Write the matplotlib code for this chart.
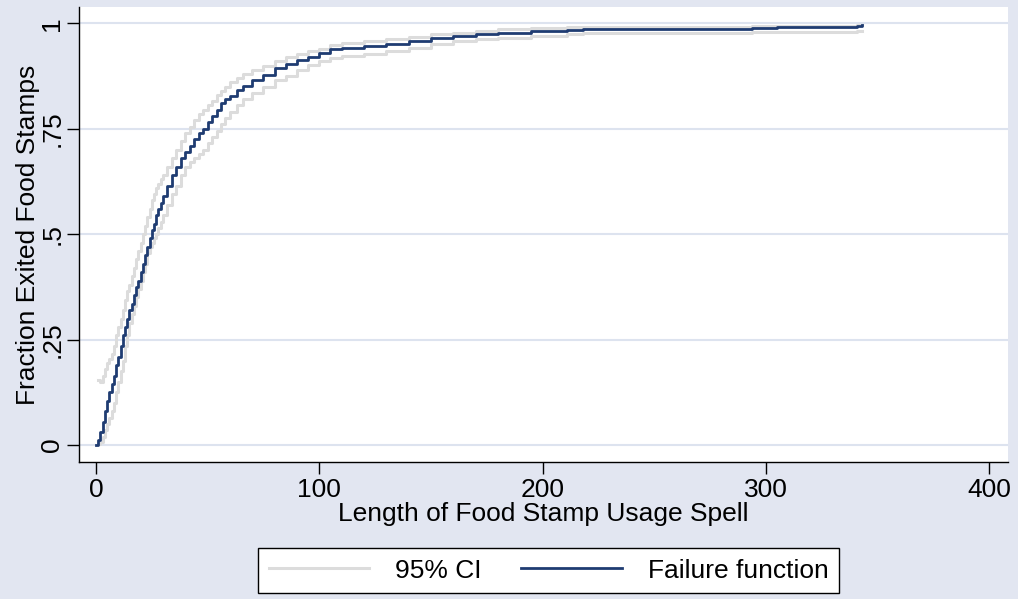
import numpy as np
import matplotlib.pyplot as plt
from matplotlib.lines import Line2D

# tempo de uso (meses) e função de falha estimada com IC 95%
tempo = [0, 1, 2, 3, 4, 5, 6, 7, 8, 9, 10, 11, 12, 13, 14, 15, 16, 17, 18, 19,
         20, 21, 22, 23, 24, 25, 26, 27, 28, 29, 30, 32, 34, 36, 38, 40, 42, 44,
         46, 48, 50, 52, 54, 56, 58, 60, 63, 66, 70, 75, 80, 85, 90, 95, 100,
         105, 110, 120, 130, 140, 150, 160, 170, 180, 195, 211, 218, 294, 305,
         341, 343]
falha = [0, 0.012, 0.03, 0.055, 0.08, 0.105, 0.125, 0.145, 0.165, 0.19, 0.21,
         0.235, 0.26, 0.28, 0.30, 0.32, 0.335, 0.355, 0.375, 0.39, 0.41, 0.43,
         0.45, 0.47, 0.49, 0.51, 0.525, 0.545, 0.56, 0.575, 0.59, 0.615, 0.64,
         0.66, 0.68, 0.695, 0.71, 0.725, 0.74, 0.75, 0.765, 0.78, 0.795, 0.81,
         0.82, 0.828, 0.842, 0.852, 0.865, 0.878, 0.893, 0.903, 0.912, 0.92,
         0.93, 0.938, 0.942, 0.946, 0.95, 0.958, 0.965, 0.97, 0.974, 0.978,
         0.981, 0.984, 0.986, 0.988, 0.99, 0.993, 0.996]
ic_inf = [np.nan, 0.003, 0.008, 0.02, 0.035, 0.05, 0.065, 0.08, 0.10, 0.125,
          0.15, 0.175, 0.20, 0.235, 0.26, 0.29, 0.31, 0.33, 0.35, 0.37, 0.39,
          0.41, 0.43, 0.455, 0.47, 0.48, 0.49, 0.50, 0.515, 0.53, 0.545, 0.57,
          0.595, 0.615, 0.64, 0.66, 0.67, 0.68, 0.69, 0.70, 0.715, 0.73, 0.745,
          0.76, 0.775, 0.79, 0.805, 0.82, 0.835, 0.85, 0.865, 0.875, 0.89, 0.90,
          0.91, 0.918, 0.922, 0.928, 0.934, 0.942, 0.95, 0.957, 0.962, 0.966,
          0.97, 0.974, 0.977, 0.979, 0.98, 0.982, np.nan]
ic_sup = [np.nan, 0.155, 0.15, 0.165, 0.18, 0.195, 0.205, 0.215, 0.235, 0.26,
          0.28, 0.30, 0.32, 0.345, 0.365, 0.38, 0.40, 0.42, 0.44, 0.46, 0.48,
          0.50, 0.52, 0.54, 0.56, 0.58, 0.595, 0.61, 0.62, 0.63, 0.64, 0.66,
          0.68, 0.70, 0.72, 0.74, 0.755, 0.77, 0.785, 0.795, 0.805, 0.815, 0.83,
          0.84, 0.85, 0.86, 0.87, 0.88, 0.89, 0.898, 0.91, 0.92, 0.928, 0.934,
          0.94, 0.948, 0.953, 0.958, 0.963, 0.968, 0.974, 0.978, 0.982, 0.986,
          0.988, 0.99, 0.992, 0.993, 0.994, 0.996, np.nan]

x_ticks = [0, 100, 200, 300, 400]
y_ticks = [0, 0.25, 0.5, 0.75, 1]
y_labels = ['0', '.25', '.5', '.75', '1']

fundo = '#E2E6F1'
azul = '#1F3C72'
cinza = '#DCDCDC'
fs = 19

plt.rcParams['font.family'] = ['Liberation Sans', 'DejaVu Sans']

fig = plt.figure(figsize=(10.18, 5.99), dpi=100, facecolor=fundo)
ax = fig.add_axes([0.0776, 0.2287, 0.9124, 0.7593])
ax.set_facecolor('white')

ax.step(tempo, ic_inf, where='post', color=cinza, linewidth=2.2)
ax.step(tempo, ic_sup, where='post', color=cinza, linewidth=2.2)
ax.step(tempo, falha, where='post', color=azul, linewidth=2.0)

ax.set_xlim(-7.6, 408.4)
ax.set_ylim(-0.040, 1.038)
ax.set_xticks(x_ticks)
ax.set_yticks(y_ticks)
ax.set_yticklabels(y_labels, rotation=90, va='center')
ax.tick_params(labelsize=fs, length=8.5, width=1, direction='out')
ax.tick_params(axis='x', pad=3)
ax.tick_params(axis='y', pad=2)
ax.grid(axis='y', color='#DDE3EF', linewidth=1.5)
ax.set_axisbelow(True)
for lado in ['top', 'right']:
    ax.spines[lado].set_visible(False)
for lado in ['left', 'bottom']:
    ax.spines[lado].set_linewidth(1.0)

ax.set_xlabel('Length of Food Stamp Usage Spell', fontsize=fs, labelpad=0)
ax.set_ylabel('Fraction Exited Food Stamps', fontsize=fs, labelpad=0)

handles = [Line2D([], [], color=cinza, linewidth=2.2),
           Line2D([], [], color=azul, linewidth=2.0)]
leg = fig.legend(handles, ['95% CI', 'Failure function'], ncol=2,
                 loc='upper center', bbox_to_anchor=(0.539, 0.0851), fontsize=fs,
                 frameon=True, fancybox=False, edgecolor='black', framealpha=1,
                 handlelength=3.8, handletextpad=1.0, columnspacing=1.5,
                 borderpad=0.4, borderaxespad=0)
leg.get_frame().set_linewidth(1.0)

plt.savefig('out.png', dpi=100, facecolor=fundo)
